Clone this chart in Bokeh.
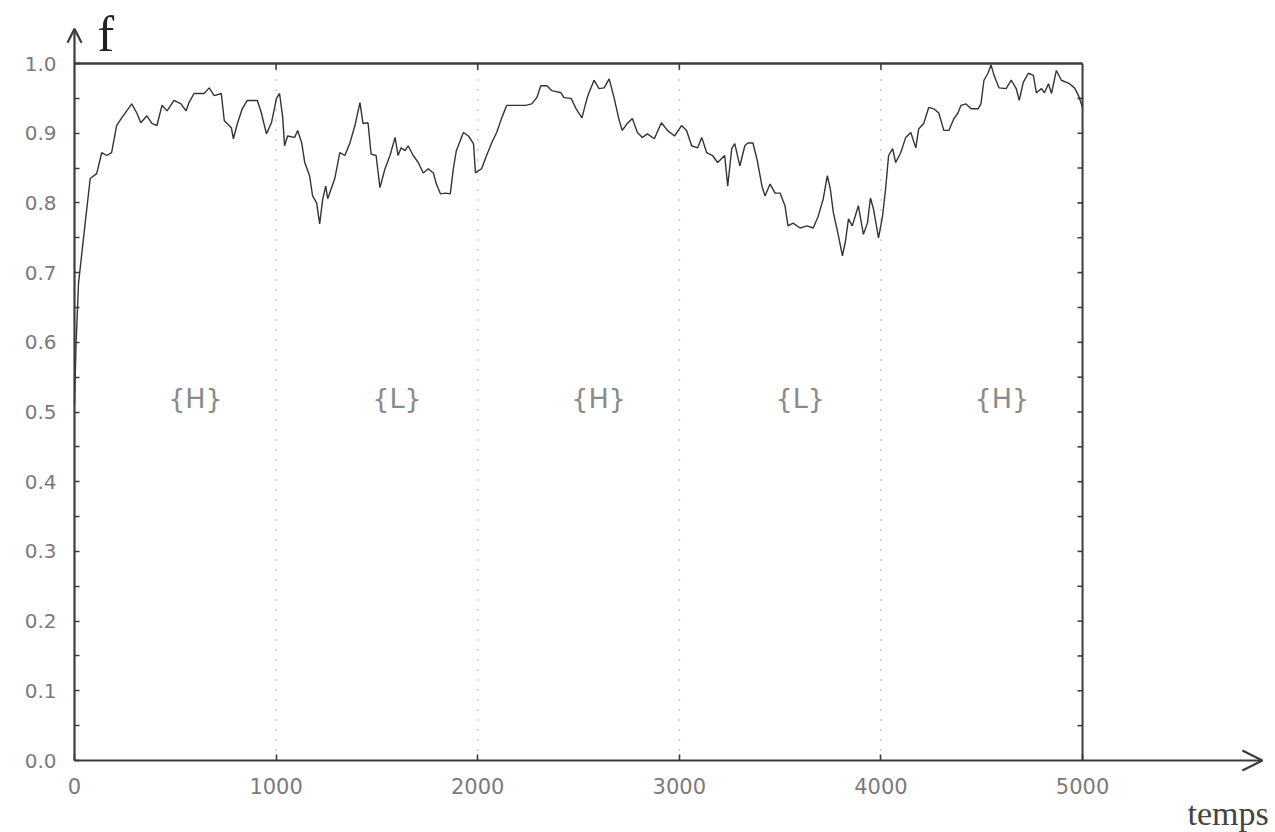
from bokeh.plotting import figure
from bokeh.models import (Range1d, FixedTicker, PrintfTickFormatter, Label, Arrow, OpenHead,
                          ColumnDataSource, LinearAxis)
from bokeh.core.properties import value
from bokeh.embed import file_html
from bokeh.resources import INLINE

# fitness trace f(t)
time_steps = [0, 8, 20, 53, 78, 110, 135, 160, 184, 209, 234, 284, 309, 329, 359, 384, 409, 434, 459, 494,
              528, 553, 568, 593, 643, 668, 693, 728, 743, 778, 788, 808, 832, 857, 907, 927, 952, 977, 1002, 1017,
              1032, 1042, 1057, 1092, 1107, 1127, 1142, 1166, 1181, 1201, 1216, 1231, 1246, 1256, 1291, 1316, 1341, 1366, 1391, 1416,
              1431, 1456, 1471, 1496, 1515, 1540, 1565, 1590, 1605, 1620, 1640, 1655, 1680, 1705, 1730, 1755, 1780, 1795, 1815, 1840,
              1864, 1879, 1894, 1929, 1954, 1979, 1989, 2019, 2044, 2069, 2094, 2119, 2144, 2188, 2213, 2238, 2268, 2293, 2313, 2343,
              2368, 2413, 2428, 2463, 2488, 2517, 2542, 2552, 2577, 2602, 2627, 2652, 2677, 2702, 2717, 2742, 2767, 2792, 2817, 2842,
              2876, 2911, 2941, 2976, 3011, 3036, 3061, 3091, 3111, 3136, 3165, 3190, 3225, 3240, 3260, 3275, 3300, 3325, 3340, 3365,
              3385, 3410, 3425, 3450, 3475, 3500, 3524, 3539, 3564, 3599, 3634, 3664, 3689, 3714, 3734, 3749, 3764, 3789, 3809, 3824,
              3839, 3858, 3888, 3913, 3933, 3948, 3963, 3988, 4008, 4023, 4038, 4058, 4073, 4098, 4123, 4148, 4173, 4187, 4212, 4237,
              4262, 4287, 4312, 4337, 4362, 4382, 4397, 4422, 4447, 4482, 4496, 4511, 4531, 4546, 4561, 4586, 4621, 4646, 4671, 4686,
              4706, 4731, 4756, 4771, 4796, 4811, 4831, 4846, 4870, 4895, 4920, 4935, 4960, 4980, 5000]
f_values = [0.51, 0.60, 0.685, 0.771, 0.835, 0.842, 0.872, 0.868, 0.872, 0.911, 0.922, 0.942, 0.929, 0.915, 0.925, 0.914, 0.911, 0.940, 0.932, 0.947,
            0.942, 0.932, 0.944, 0.957, 0.957, 0.965, 0.954, 0.957, 0.918, 0.908, 0.892, 0.914, 0.935, 0.947, 0.947, 0.929, 0.899, 0.915, 0.950, 0.957,
            0.925, 0.882, 0.896, 0.894, 0.904, 0.886, 0.858, 0.839, 0.810, 0.800, 0.770, 0.805, 0.824, 0.806, 0.835, 0.872, 0.868, 0.886, 0.911, 0.944,
            0.914, 0.915, 0.870, 0.868, 0.822, 0.849, 0.868, 0.894, 0.868, 0.879, 0.875, 0.882, 0.868, 0.858, 0.843, 0.849, 0.843, 0.827, 0.813, 0.814,
            0.813, 0.849, 0.875, 0.901, 0.896, 0.885, 0.843, 0.849, 0.868, 0.886, 0.901, 0.922, 0.940, 0.940, 0.940, 0.940, 0.942, 0.951, 0.968, 0.968,
            0.961, 0.958, 0.951, 0.950, 0.935, 0.922, 0.950, 0.958, 0.976, 0.964, 0.965, 0.978, 0.950, 0.918, 0.904, 0.914, 0.921, 0.901, 0.894, 0.899,
            0.892, 0.915, 0.904, 0.896, 0.911, 0.904, 0.882, 0.879, 0.894, 0.872, 0.868, 0.858, 0.868, 0.824, 0.878, 0.885, 0.853, 0.882, 0.886, 0.886,
            0.863, 0.824, 0.810, 0.827, 0.814, 0.814, 0.796, 0.767, 0.771, 0.764, 0.767, 0.764, 0.781, 0.806, 0.839, 0.820, 0.786, 0.753, 0.724, 0.745,
            0.777, 0.767, 0.796, 0.755, 0.771, 0.807, 0.791, 0.750, 0.781, 0.820, 0.868, 0.878, 0.858, 0.872, 0.894, 0.901, 0.879, 0.906, 0.914, 0.937,
            0.935, 0.929, 0.904, 0.904, 0.921, 0.929, 0.940, 0.942, 0.935, 0.935, 0.942, 0.976, 0.986, 0.998, 0.983, 0.965, 0.964, 0.976, 0.964, 0.947,
            0.973, 0.986, 0.983, 0.958, 0.964, 0.958, 0.971, 0.957, 0.990, 0.976, 0.973, 0.971, 0.965, 0.954, 0.937]

# phase annotations
phase_labels = ["{H}", "{L}", "{H}", "{L}", "{H}"]
phase_times = [600, 1600, 2600, 3600, 4600]
phase_level = [0.52, 0.52, 0.52, 0.52, 0.52]

# axes
x_ticks = [0, 1000, 2000, 3000, 4000, 5000]
x_dotted = [1000, 2000, 3000, 4000]
y_major = [0.0, 0.1, 0.2, 0.3, 0.4, 0.5, 0.6, 0.7, 0.8, 0.9, 1.0]
y_minor = [0.05, 0.15, 0.25, 0.35, 0.45, 0.55, 0.65, 0.75, 0.85, 0.95]
t_end = 5000
f_top = 1.0
t_arrow = 5892
f_arrow = 1.05

ink = "#3c3c3c"
label_grey = "#7a7a7a"

# the frame fills the whole canvas; axes sit at fixed data locations inside it
p = figure(width=1275, height=832, x_range=Range1d(-367, 5957), y_range=Range1d(-0.1033, 1.0904),
           output_backend="svg", toolbar_location=None, x_axis_type=None, y_axis_type=None,
           min_border_left=0, min_border_right=0, min_border_top=0, min_border_bottom=0)
p.outline_line_color = None
p.grid.visible = False
p.background_fill_color = "white"
p.border_fill_color = "white"

xaxis = LinearAxis(fixed_location=0, ticker=FixedTicker(ticks=x_ticks))
xaxis.axis_line_color = None
xaxis.major_tick_in = 6
xaxis.major_tick_out = 0
xaxis.major_tick_line_color = ink
xaxis.major_tick_line_width = 1.6
xaxis.minor_tick_line_color = None
xaxis.major_label_text_font = "DejaVu Sans"
xaxis.major_label_text_font_size = "21px"
xaxis.major_label_text_color = label_grey
xaxis.major_label_standoff = 17
p.add_layout(xaxis, "below")

yaxis = LinearAxis(fixed_location=0, ticker=FixedTicker(ticks=y_major, minor_ticks=y_minor),
                   formatter=PrintfTickFormatter(format="%.1f"))
yaxis.axis_line_color = None
yaxis.major_tick_in = 5
yaxis.major_tick_out = 0
yaxis.minor_tick_in = 5
yaxis.minor_tick_out = 0
yaxis.major_tick_line_color = ink
yaxis.minor_tick_line_color = ink
yaxis.major_tick_line_width = 1.6
yaxis.minor_tick_line_width = 1.6
yaxis.major_label_text_font = "DejaVu Sans"
yaxis.major_label_text_font_size = "20px"
yaxis.major_label_text_color = label_grey
yaxis.major_label_standoff = 18
p.add_layout(yaxis, "left")

# dotted separators between phases
p.segment(x0=x_dotted, y0=[0] * len(x_dotted), x1=x_dotted, y1=[f_top] * len(x_dotted),
          line_color="#9aa0b8", line_width=1.6, line_dash="1 9")

# frame: top and right borders with inward ticks
p.segment(x0=[0], y0=[f_top], x1=[t_end], y1=[f_top], line_color=ink, line_width=2.4)
p.segment(x0=[t_end], y0=[0], x1=[t_end], y1=[f_top], line_color=ink, line_width=2.0)
top_ticks = x_ticks[1:-1]
p.segment(x0=top_ticks, y0=[f_top] * len(top_ticks), x1=top_ticks, y1=[f_top - 0.009] * len(top_ticks),
          line_color=ink, line_width=1.6)
right_ticks = sorted(y_major[1:-1] + y_minor)
p.segment(x0=[t_end] * len(right_ticks), y0=right_ticks, x1=[t_end - 25] * len(right_ticks), y1=right_ticks,
          line_color=ink, line_width=1.6)

# trace
p.line(time_steps, f_values, line_color="#333333", line_width=1.4)

# phase labels
src = ColumnDataSource(dict(x=phase_times, y=phase_level, t=phase_labels))
p.text(x="x", y="y", text="t", source=src, text_font=value("DejaVu Sans"), text_font_size="27px",
       text_color="#8a8a8a", text_align="center", text_baseline="middle")

# axis lines ending in arrows
p.add_layout(Arrow(x_start=0, y_start=0, x_end=0, y_end=f_arrow, line_color=ink, line_width=2.2,
                   end=OpenHead(size=14, line_color=ink, line_width=2.2)))
p.add_layout(Arrow(x_start=0, y_start=0, x_end=t_arrow, y_end=0, line_color=ink, line_width=2.2,
                   end=OpenHead(size=20, line_color=ink, line_width=2.2)))

# axis titles
p.add_layout(Label(x=114, y=1.082, text="f", text_font="Liberation Serif", text_font_size="50px",
                   text_color="#222222", text_align="left", text_baseline="top"))
p.add_layout(Label(x=5923, y=-0.050, text="temps", text_font="Liberation Serif", text_font_size="34px",
                   text_color="#444444", text_align="right", text_baseline="top"))

open("out.html", "w").write(file_html(p, INLINE))
